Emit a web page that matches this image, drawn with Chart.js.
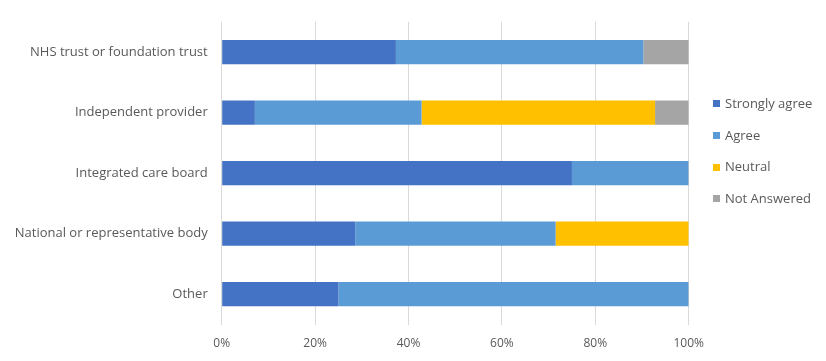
<!DOCTYPE html>
<html>
<head>
<meta charset="utf-8">
<script src="https://cdn.jsdelivr.net/npm/chart.js@4.4.1/dist/chart.umd.min.js"></script>
<style>
  html, body { margin: 0; padding: 0; background: #fff; }
  #wrap { position: relative; width: 826px; height: 361px; }
  #legend { position: absolute; left: 713px; top: 88px; font-family: "Open Sans", sans-serif; font-size: 13px; color: #595959; }
  #legend .item { height: 31.7px; line-height: 31.7px; display: flex; align-items: center; white-space: nowrap; }
  #legend .sw { width: 7px; height: 7px; margin-right: 5px; display: inline-block; }
</style>
</head>
<body>
<div id="wrap">
  <canvas id="c" width="826" height="361"></canvas>
  <div id="legend"></div>
</div>
<script>
const categories = ["NHS trust or foundation trust", "Independent provider", "Integrated care board", "National or representative body", "Other"];
const seriesNames = ["Strongly agree", "Agree", "Neutral", "Not Answered"];
const stronglyAgree = [37.3, 7.1, 75.0, 28.6, 25.0];
const agree = [53.0, 35.7, 25.0, 42.9, 75.0];
const neutral = [0, 50.0, 0, 28.5, 0];
const notAnswered = [9.7, 7.2, 0, 0, 0];
const xTicks = [0, 20, 40, 60, 80, 100];
const colors = ["#4472C4", "#5B9BD5", "#FFC000", "#A5A5A5"];

const seriesValues = [stronglyAgree, agree, neutral, notAnswered];
const datasets = seriesNames.map((name, i) => ({
  label: name,
  data: seriesValues[i],
  backgroundColor: colors[i],
  borderWidth: 0,
  categoryPercentage: 1.0,
  barPercentage: 0.4
}));

const FONT = "'Open Sans', sans-serif";

new Chart(document.getElementById("c"), {
  type: "bar",
  data: { labels: categories, datasets },
  options: {
    indexAxis: "y",
    responsive: false,
    animation: false,
    devicePixelRatio: 1,
    layout: { padding: { top: 19.5, right: 137.3, left: 0, bottom: 0 } },
    plugins: { legend: { display: false }, tooltip: { enabled: false } },
    scales: {
      x: {
        stacked: true,
        min: 0, max: 100,
        afterBuildTicks: (axis) => { axis.ticks = xTicks.map(v => ({ value: v })); },
        ticks: { callback: v => v + "%", color: "#595959", font: { family: FONT, size: 12 }, padding: 12 },
        grid: { color: "#D9D9D9", lineWidth: 1, drawTicks: false },
        border: { display: false },
        afterFit: (axis) => { axis.height = 36.5; }
      },
      y: {
        stacked: true,
        ticks: { color: "#595959", font: { family: FONT, size: 13 }, padding: 14 },
        grid: { display: false, drawTicks: false },
        border: { display: false },
        afterFit: (axis) => { axis.width = 221.7; }
      }
    }
  }
});

const leg = document.getElementById("legend");
seriesNames.forEach((name, i) => {
  const it = document.createElement("div");
  it.className = "item";
  const sw = document.createElement("span");
  sw.className = "sw";
  sw.style.background = colors[i];
  it.appendChild(sw);
  it.appendChild(document.createTextNode(name));
  leg.appendChild(it);
});
</script>
</body>
</html>
